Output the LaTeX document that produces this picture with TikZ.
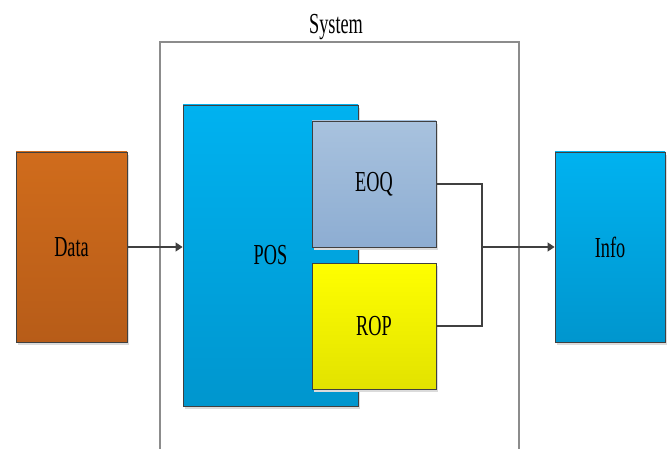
\documentclass[tikz,border=0pt]{standalone}
\usepackage{fontspec}
\setmainfont{Liberation Serif}
\usepackage{tikz}
\usetikzlibrary{arrows.meta, shadows}

\definecolor{dataTop}{HTML}{D06C1C}
\definecolor{dataBot}{HTML}{B75C18}
\definecolor{posTop}{HTML}{00B2F0}
\definecolor{posBot}{HTML}{0096CE}
\definecolor{eoqTop}{HTML}{A8C2DE}
\definecolor{eoqBot}{HTML}{8DADD2}
\definecolor{ropTop}{HTML}{FFFF00}
\definecolor{ropBot}{HTML}{E2E200}
\definecolor{lineGray}{HTML}{404040}
\newcommand{\nar}[1]{\scalebox{0.63}[1]{#1}}

\begin{document}
\begin{tikzpicture}[x=1pt, y=-1pt,
  block/.style={draw=lineGray, line width=0.8pt, inner sep=0pt,
    font=\fontsize{29}{32}\selectfont,
    drop shadow={shadow xshift=2pt, shadow yshift=-3pt, fill=black!14, opacity=1}},
  link/.style={draw=lineGray, line width=1.2pt},
  arr/.style={link, -{Triangle[length=7pt, width=9pt]}}]
\useasboundingbox (0,0) rectangle (669,449);

% system frame (open at the bottom)
\draw[black!45, line width=1.2pt] (160,449) -- (160,42) -- (519,42) -- (519,449);
\node (sys) at (336,27) {\fontsize{29}{32}\selectfont\nar{System}};

\node (data) [block, top color=dataTop, bottom color=dataBot,
  minimum width=111pt, minimum height=190pt] at (71.5,247) {\nar{Data}};
\node (pos) [block, top color=posTop, bottom color=posBot,
  minimum width=175pt, minimum height=301pt] at (270.5,255.5) {\nar{POS}};
\node (eoq) [block, top color=eoqTop, bottom color=eoqBot,
  minimum width=124pt, minimum height=126pt] at (374,184) {\nar{EOQ}};
\node (rop) [block, top color=ropTop, bottom color=ropBot,
  minimum width=124pt, minimum height=126pt] at (374,326) {\nar{ROP}};
\node (info) [block, top color=posTop, bottom color=posBot,
  minimum width=110pt, minimum height=190pt] at (610,247) {\nar{Info}};

\coordinate (join) at (482,247);

\draw[arr] (data.east) -- (data.east -| pos.west);
\draw[link] (eoq.east) -| (join);
\draw[link] (rop.east) -| (join);
\draw[arr] (join) -- (info.west);
\end{tikzpicture}
\end{document}
